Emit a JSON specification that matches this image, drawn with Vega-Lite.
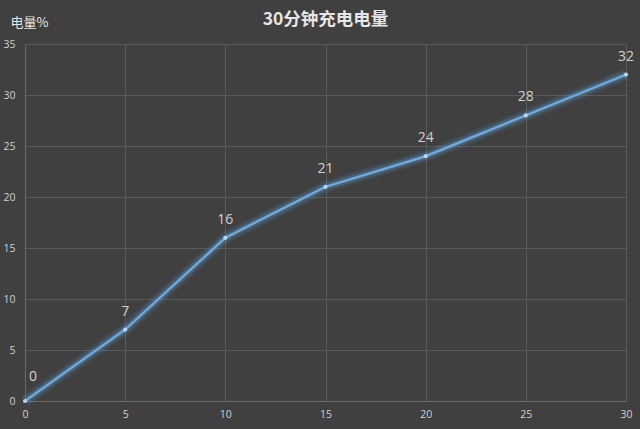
{
  "$schema": "https://vega.github.io/schema/vega-lite/v6.json",
  "width": 601,
  "height": 357,
  "autosize": {"type": "none"},
  "padding": {"left": 25, "top": 44, "right": 14, "bottom": 28},
  "background": "#404040",
  "title": {
    "text": "30分钟充电电量",
    "anchor": "middle",
    "fontSize": 17.5,
    "fontWeight": "bold",
    "font": "Noto Sans CJK SC",
    "color": "#e6e6e6",
    "offset": -12
  },
  "config": {
    "view": {"stroke": null},
    "font": "Noto Sans CJK SC",
    "axis": {
      "gridColor": "#5a5a5a",
      "gridWidth": 1,
      "domainColor": "#6a6a6a",
      "ticks": false,
      "labelColor": "#d0d0d0",
      "labelFontSize": 10.5,
      "labelFont": "Open Sans",
      "titleColor": "#e6e6e6"
    }
  },
  "data": {
    "values": [
      {"minute": 0, "charge": 0},
      {"minute": 5, "charge": 7},
      {"minute": 10, "charge": 16},
      {"minute": 15, "charge": 21},
      {"minute": 20, "charge": 24},
      {"minute": 25, "charge": 28},
      {"minute": 30, "charge": 32}
    ]
  },
  "encoding": {
    "x": {
      "field": "minute",
      "type": "quantitative",
      "scale": {"domain": [0, 30], "nice": false},
      "axis": {"values": [0, 5, 10, 15, 20, 25, 30], "title": null, "labelPadding": 8, "labelFlush": false}
    },
    "y": {
      "field": "charge",
      "type": "quantitative",
      "scale": {"domain": [0, 35], "nice": false},
      "axis": {
        "values": [0, 5, 10, 15, 20, 25, 30, 35],
        "labelPadding": 10,
        "title": "电量%",
        "titleAngle": 0,
        "titleX": -15,
        "titleY": -22,
        "titleAlign": "left",
        "titleBaseline": "middle",
        "titleFontSize": 13,
        "titleFontWeight": "normal"
      }
    }
  },
  "layer": [
    {"mark": {"type": "line", "color": "#5b9bd5", "strokeWidth": 12, "opacity": 0.12}},
    {"mark": {"type": "line", "color": "#5b9bd5", "strokeWidth": 7, "opacity": 0.25}},
    {"mark": {"type": "line", "color": "#6fa8dc", "strokeWidth": 2.5}},
    {"mark": {"type": "point", "filled": true, "color": "#b8d4f0", "size": 18, "opacity": 1}},
    {
      "transform": [{"filter": "datum.minute > 0"}],
      "mark": {"type": "text", "dy": -18, "fontSize": 14, "color": "#d0d0d0", "font": "Open Sans"},
      "encoding": {"text": {"field": "charge", "type": "quantitative"}}
    },
    {
      "transform": [{"filter": "datum.minute == 0"}],
      "mark": {"type": "text", "dy": -24, "dx": 8, "fontSize": 14, "color": "#d0d0d0", "font": "Open Sans"},
      "encoding": {"text": {"field": "charge", "type": "quantitative"}}
    }
  ]
}
